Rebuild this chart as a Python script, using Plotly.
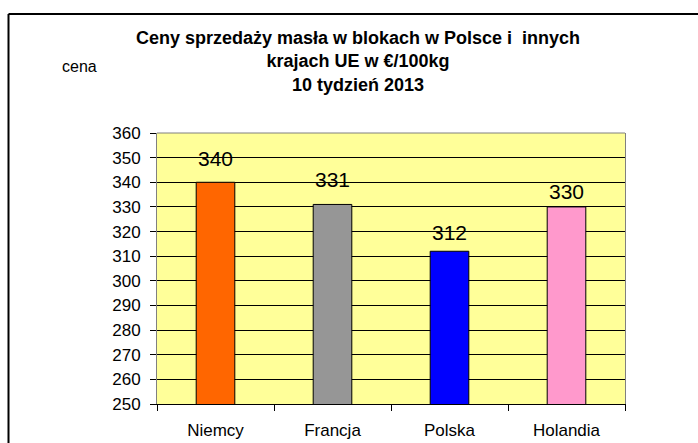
import plotly.graph_objects as go

kraje = ["Niemcy", "Francja", "Polska", "Holandia"]
ceny = [340, 331, 312, 330]
kolory = ["#FF6600", "#969696", "#0000FF", "#FF99CC"]
y_ticks = list(range(250, 361, 10))

# label offsets above each bar in px (they were hand-placed in the original)
label_shift = [24, 25, 19, 15]

# plot area in pixels: x 157..625, y 133..404
L, R, T, B = 157, 625, 133, 404
W, H = 698, 443


def px_x(p):
    return (p - L) / (R - L)


def px_y(p):
    return (B - p) / (B - T)


fig = go.Figure()
fig.add_trace(go.Bar(
    x=kraje, y=ceny,
    marker=dict(color=kolory, line=dict(color="black", width=1)),
    width=0.33,
))

for k, c, s in zip(kraje, ceny, label_shift):
    fig.add_annotation(x=k, y=c, text=str(c), showarrow=False, yshift=s,
                       font=dict(size=21, color="black"))

fig.add_annotation(x=px_x(79), y=px_y(67), xref="paper", yref="paper", text="cena",
                   xanchor="center", yanchor="middle",
                   showarrow=False, font=dict(size=16, color="black"))

fig.update_layout(
    width=W, height=H,
    margin=dict(l=L, r=W - R, t=T, b=H - B, autoexpand=False),
    paper_bgcolor="white",
    plot_bgcolor="#FFFF99",
    font=dict(family="Arial, Liberation Sans, sans-serif", color="black"),
    showlegend=False,
    title=dict(
        text="<b>Ceny sprzedaży masła w blokach w Polsce i  innych<br>krajach UE w €/100kg<br>10 tydzień 2013</b>",
        x=358 / W, xanchor="center", y=1 - 44 / H, yanchor="middle",
        font=dict(size=18, color="black"),
    ),
    shapes=[
        dict(type="line", xref="paper", yref="paper", x0=px_x(8.5), x1=px_x(8.5),
             y0=px_y(H + 5), y1=px_y(14), line=dict(color="black", width=2)),
        dict(type="line", xref="paper", yref="paper", x0=px_x(8.5), x1=px_x(W + 5),
             y0=px_y(14), y1=px_y(14), line=dict(color="black", width=2)),
        dict(type="line", xref="paper", yref="paper", x0=0, x1=1, y0=1, y1=1,
             line=dict(color="#808080", width=1), layer="above"),
    ],
)
fig.update_yaxes(
    range=[250, 360], tickvals=y_ticks, automargin=False,
    showgrid=True, gridcolor="black", gridwidth=1,
    showline=True, linecolor="#808080", linewidth=1, mirror=True,
    ticks="outside", ticklen=6, tickcolor="black",
    tickfont=dict(size=17), zeroline=False, ticklabelstandoff=6,
)
fig.update_xaxes(
    automargin=False,
    showline=True, linecolor="black", linewidth=1,
    ticks="outside", ticklen=6, tickcolor="black", tickson="boundaries",
    tickfont=dict(size=17), ticklabelstandoff=11,
)

fig.write_html("out.html", config={"displayModeBar": False},
               post_script="document.body.style.margin='0';")
